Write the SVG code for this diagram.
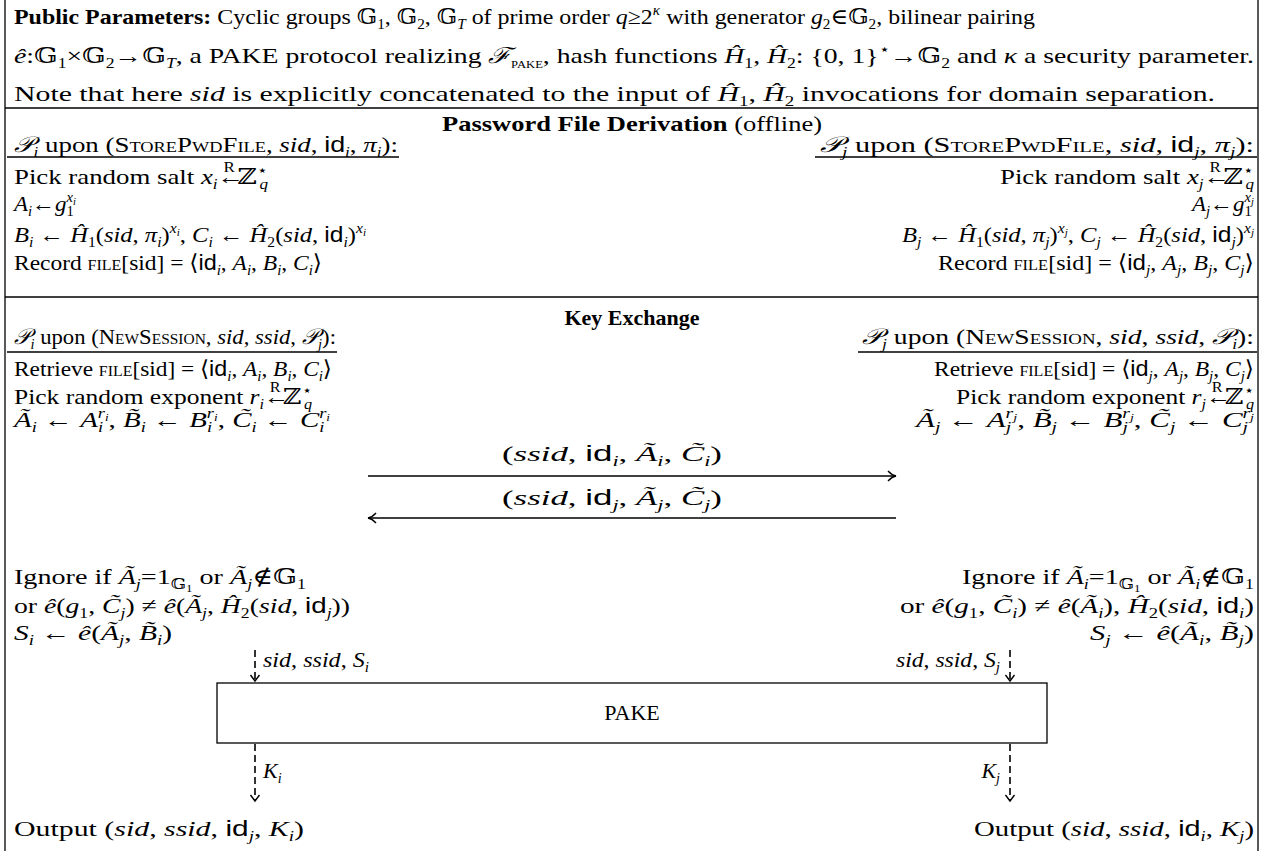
<svg xmlns="http://www.w3.org/2000/svg" width="1265" height="851" viewBox="0 0 1265 851">
<style>
text{font-family:"Liberation Serif","DejaVu Serif",serif;font-size:22px;fill:#000}
.i{font-style:italic}
.b{font-weight:bold}
.sf{font-family:"Liberation Sans","DejaVu Sans",sans-serif;font-style:normal}
.sc{font-variant:small-caps}
.sb{font-size:14px;baseline-shift:-5px}
.sp{font-size:14px;baseline-shift:9px}
.ss{font-size:10px;baseline-shift:-3px}
.r{font-size:14px;font-style:normal}
.rule{stroke:#000;stroke-width:1.3;fill:none}
.arr{stroke:#000;stroke-width:1.6;fill:none}
.dash{stroke:#000;stroke-width:1.6;fill:none;stroke-dasharray:7 4}
.box{fill:#fff;stroke:#000;stroke-width:1.3}
</style>
<defs>
<marker id="ah" markerWidth="12" markerHeight="12" refX="10" refY="6" orient="auto" markerUnits="userSpaceOnUse">
<path d="M2,1 Q6,5.4 10,6 Q6,6.6 2,11" fill="none" stroke="#000" stroke-width="1.4"/>
</marker>
<marker id="ch" markerWidth="12" markerHeight="12" refX="10" refY="6" orient="auto" markerUnits="userSpaceOnUse">
<path d="M4,1.5 L10,6 L4,10.5" fill="none" stroke="#000" stroke-width="1.4"/>
</marker>
</defs>
<rect width="1265" height="851" fill="#fff"/>
<g id="frame">
<line class="rule" x1="5" y1="0" x2="5" y2="851"/>
<line class="rule" x1="1258" y1="0" x2="1258" y2="851"/>
<line class="rule" x1="5" y1="108" x2="1258" y2="108"/>
<line class="rule" x1="5" y1="297" x2="1258" y2="297"/>
</g>
<g id="public-parameters">
<text x="14" y="24" textLength="1021" lengthAdjust="spacingAndGlyphs"><tspan class="b">Public Parameters:</tspan> Cyclic groups 𝔾<tspan class="sb">1</tspan>, 𝔾<tspan class="sb">2</tspan>, 𝔾<tspan class="sb i">T</tspan> of prime order <tspan class="i">q</tspan>≥2<tspan class="sp i">κ</tspan> with generator <tspan class="i">g</tspan><tspan class="sb">2</tspan>∈𝔾<tspan class="sb">2</tspan>, bilinear pairing</text>
<text x="14" y="63" textLength="1240" lengthAdjust="spacingAndGlyphs"><tspan class="i">ê</tspan>:𝔾<tspan class="sb">1</tspan>×𝔾<tspan class="sb">2</tspan>→𝔾<tspan class="sb i">T</tspan>, a PAKE protocol realizing <tspan class="i">ℱ</tspan><tspan class="sb sc">pake</tspan>, hash functions <tspan class="i">Ĥ</tspan><tspan class="sb">1</tspan>, <tspan class="i">Ĥ</tspan><tspan class="sb">2</tspan>: {0, 1}<tspan class="sp">⋆</tspan>→𝔾<tspan class="sb">2</tspan> and <tspan class="i">κ</tspan> a security parameter.</text>
<text x="14" y="101" textLength="1201" lengthAdjust="spacingAndGlyphs">Note that here <tspan class="i">sid</tspan> is explicitly concatenated to the input of <tspan class="i">Ĥ</tspan><tspan class="sb">1</tspan>, <tspan class="i">Ĥ</tspan><tspan class="sb">2</tspan> invocations for domain separation.</text>
</g>
<g id="password-file-derivation">
<text x="442" y="131" textLength="380" lengthAdjust="spacingAndGlyphs"><tspan class="b">Password File Derivation</tspan> (offline)</text>
<g id="pi-store">
<text x="14" y="152" textLength="384" lengthAdjust="spacingAndGlyphs"><tspan class="i">𝒫</tspan><tspan class="sb i">i</tspan> upon (<tspan class="sc">StorePwdFile</tspan>, <tspan class="i">sid</tspan>, <tspan class="sf">id</tspan><tspan class="sb i">i</tspan>, <tspan class="i">π</tspan><tspan class="sb i">i</tspan>):</text>
<line class="rule" x1="7" y1="157" x2="399" y2="157"/>
<text x="14" y="184" textLength="254" lengthAdjust="spacingAndGlyphs">Pick random salt <tspan class="i">x</tspan><tspan class="sb i">i</tspan>←<tspan class="r" dx="-17" dy="-12">R</tspan><tspan dx="2" dy="12">ℤ</tspan><tspan class="sp">⋆</tspan><tspan class="sb i" dx="-7">q</tspan></text>
<text x="14" y="211" textLength="62" lengthAdjust="spacingAndGlyphs"><tspan class="i">A</tspan><tspan class="sb i">i</tspan>←<tspan class="i">g</tspan><tspan class="sb">1</tspan><tspan class="sp i" dx="-7">x<tspan class="ss">i</tspan></tspan></text>
<text x="14" y="242" textLength="352" lengthAdjust="spacingAndGlyphs"><tspan class="i">B</tspan><tspan class="sb i">i</tspan> ← <tspan class="i">Ĥ</tspan><tspan class="sb">1</tspan>(<tspan class="i">sid</tspan>, <tspan class="i">π</tspan><tspan class="sb i">i</tspan>)<tspan class="sp i">x<tspan class="ss">i</tspan></tspan>,  <tspan class="i">C</tspan><tspan class="sb i">i</tspan> ← <tspan class="i">Ĥ</tspan><tspan class="sb">2</tspan>(<tspan class="i">sid</tspan>, <tspan class="sf">id</tspan><tspan class="sb i">i</tspan>)<tspan class="sp i">x<tspan class="ss">i</tspan></tspan></text>
<text x="14" y="270" textLength="308" lengthAdjust="spacingAndGlyphs">Record <tspan class="sc">file</tspan>[sid] = ⟨<tspan class="sf">id</tspan><tspan class="sb i">i</tspan>, <tspan class="i">A</tspan><tspan class="sb i">i</tspan>, <tspan class="i">B</tspan><tspan class="sb i">i</tspan>, <tspan class="i">C</tspan><tspan class="sb i">i</tspan>⟩</text>
</g>
<g id="pj-store">
<text x="820" y="152" textLength="434" lengthAdjust="spacingAndGlyphs"><tspan class="i">𝒫</tspan><tspan class="sb i">j</tspan> upon (<tspan class="sc">StorePwdFile</tspan>, <tspan class="i">sid</tspan>, <tspan class="sf">id</tspan><tspan class="sb i">j</tspan>, <tspan class="i">π</tspan><tspan class="sb i">j</tspan>):</text>
<line class="rule" x1="815" y1="157" x2="1257" y2="157"/>
<text x="1000" y="184" textLength="254" lengthAdjust="spacingAndGlyphs">Pick random salt <tspan class="i">x</tspan><tspan class="sb i">j</tspan>←<tspan class="r" dx="-17" dy="-12">R</tspan><tspan dx="2" dy="12">ℤ</tspan><tspan class="sp">⋆</tspan><tspan class="sb i" dx="-7">q</tspan></text>
<text x="1192" y="211" textLength="62" lengthAdjust="spacingAndGlyphs"><tspan class="i">A</tspan><tspan class="sb i">j</tspan>←<tspan class="i">g</tspan><tspan class="sb">1</tspan><tspan class="sp i" dx="-7">x<tspan class="ss">j</tspan></tspan></text>
<text x="902" y="242" textLength="352" lengthAdjust="spacingAndGlyphs"><tspan class="i">B</tspan><tspan class="sb i">j</tspan> ← <tspan class="i">Ĥ</tspan><tspan class="sb">1</tspan>(<tspan class="i">sid</tspan>, <tspan class="i">π</tspan><tspan class="sb i">j</tspan>)<tspan class="sp i">x<tspan class="ss">j</tspan></tspan>,  <tspan class="i">C</tspan><tspan class="sb i">j</tspan> ← <tspan class="i">Ĥ</tspan><tspan class="sb">2</tspan>(<tspan class="i">sid</tspan>, <tspan class="sf">id</tspan><tspan class="sb i">j</tspan>)<tspan class="sp i">x<tspan class="ss">j</tspan></tspan></text>
<text x="938" y="270" textLength="316" lengthAdjust="spacingAndGlyphs">Record <tspan class="sc">file</tspan>[sid] = ⟨<tspan class="sf">id</tspan><tspan class="sb i">j</tspan>, <tspan class="i">A</tspan><tspan class="sb i">j</tspan>, <tspan class="i">B</tspan><tspan class="sb i">j</tspan>, <tspan class="i">C</tspan><tspan class="sb i">j</tspan>⟩</text>
</g>
</g>
<g id="key-exchange">
<text x="632" y="325" text-anchor="middle" class="b">Key Exchange</text>
<g id="pi-session">
<text x="14" y="344" textLength="322" lengthAdjust="spacingAndGlyphs"><tspan class="i">𝒫</tspan><tspan class="sb i">i</tspan> upon (<tspan class="sc">NewSession</tspan>, <tspan class="i">sid</tspan>, <tspan class="i">ssid</tspan>, <tspan class="i">𝒫</tspan><tspan class="sb i">j</tspan>):</text>
<line class="rule" x1="7" y1="352" x2="337" y2="352"/>
<text x="14" y="376" textLength="318" lengthAdjust="spacingAndGlyphs">Retrieve <tspan class="sc">file</tspan>[sid] = ⟨<tspan class="sf">id</tspan><tspan class="sb i">i</tspan>, <tspan class="i">A</tspan><tspan class="sb i">i</tspan>, <tspan class="i">B</tspan><tspan class="sb i">i</tspan>, <tspan class="i">C</tspan><tspan class="sb i">i</tspan>⟩</text>
<text x="14" y="404" textLength="298" lengthAdjust="spacingAndGlyphs">Pick random exponent <tspan class="i">r</tspan><tspan class="sb i">i</tspan>←<tspan class="r" dx="-17" dy="-12">R</tspan><tspan dx="2" dy="12">ℤ</tspan><tspan class="sp">⋆</tspan><tspan class="sb i" dx="-7">q</tspan></text>
<text x="14" y="427" textLength="316" lengthAdjust="spacingAndGlyphs"><tspan class="i">Ã</tspan><tspan class="sb i">i</tspan> ← <tspan class="i">A</tspan><tspan class="sb i">i</tspan><tspan class="sp i" dx="-4">r<tspan class="ss">i</tspan></tspan>,     <tspan class="i">B̃</tspan><tspan class="sb i">i</tspan> ← <tspan class="i">B</tspan><tspan class="sb i">i</tspan><tspan class="sp i" dx="-4">r<tspan class="ss">i</tspan></tspan>,     <tspan class="i">C̃</tspan><tspan class="sb i">i</tspan> ← <tspan class="i">C</tspan><tspan class="sb i">i</tspan><tspan class="sp i" dx="-4">r<tspan class="ss">i</tspan></tspan></text>
<text x="14" y="584" textLength="292" lengthAdjust="spacingAndGlyphs">Ignore if <tspan class="i">Ã</tspan><tspan class="sb i">j</tspan>=1<tspan class="sb">𝔾<tspan class="ss">1</tspan></tspan>  or <tspan class="i">Ã</tspan><tspan class="sb i">j</tspan>∉𝔾<tspan class="sb">1</tspan></text>
<text x="14" y="613" textLength="336" lengthAdjust="spacingAndGlyphs">or <tspan class="i">ê</tspan>(<tspan class="i">g</tspan><tspan class="sb">1</tspan>, <tspan class="i">C̃</tspan><tspan class="sb i">j</tspan>) ≠ <tspan class="i">ê</tspan>(<tspan class="i">Ã</tspan><tspan class="sb i">j</tspan>, <tspan class="i">Ĥ</tspan><tspan class="sb">2</tspan>(<tspan class="i">sid</tspan>, <tspan class="sf">id</tspan><tspan class="sb i">j</tspan>))</text>
<text x="14" y="640" textLength="158" lengthAdjust="spacingAndGlyphs"><tspan class="i">S</tspan><tspan class="sb i">i</tspan>  ←  <tspan class="i">ê</tspan>(<tspan class="i">Ã</tspan><tspan class="sb i">j</tspan>,  <tspan class="i">B̃</tspan><tspan class="sb i">i</tspan>)</text>
<text x="14" y="836" textLength="290" lengthAdjust="spacingAndGlyphs">Output (<tspan class="i">sid</tspan>,  <tspan class="i">ssid</tspan>,  <tspan class="sf">id</tspan><tspan class="sb i">j</tspan>,  <tspan class="i">K</tspan><tspan class="sb i">i</tspan>)</text>
</g>
<g id="pj-session">
<text x="862" y="344" textLength="392" lengthAdjust="spacingAndGlyphs"><tspan class="i">𝒫</tspan><tspan class="sb i">j</tspan> upon (<tspan class="sc">NewSession</tspan>, <tspan class="i">sid</tspan>, <tspan class="i">ssid</tspan>, <tspan class="i">𝒫</tspan><tspan class="sb i">i</tspan>):</text>
<line class="rule" x1="858" y1="352" x2="1257" y2="352"/>
<text x="934" y="376" textLength="320" lengthAdjust="spacingAndGlyphs">Retrieve <tspan class="sc">file</tspan>[sid] = ⟨<tspan class="sf">id</tspan><tspan class="sb i">j</tspan>, <tspan class="i">A</tspan><tspan class="sb i">j</tspan>, <tspan class="i">B</tspan><tspan class="sb i">j</tspan>, <tspan class="i">C</tspan><tspan class="sb i">j</tspan>⟩</text>
<text x="956" y="404" textLength="298" lengthAdjust="spacingAndGlyphs">Pick random exponent <tspan class="i">r</tspan><tspan class="sb i">j</tspan>←<tspan class="r" dx="-17" dy="-12">R</tspan><tspan dx="2" dy="12">ℤ</tspan><tspan class="sp">⋆</tspan><tspan class="sb i" dx="-7">q</tspan></text>
<text x="916" y="427" textLength="338" lengthAdjust="spacingAndGlyphs"><tspan class="i">Ã</tspan><tspan class="sb i">j</tspan> ← <tspan class="i">A</tspan><tspan class="sb i">j</tspan><tspan class="sp i" dx="-4">r<tspan class="ss">j</tspan></tspan>,     <tspan class="i">B̃</tspan><tspan class="sb i">j</tspan> ← <tspan class="i">B</tspan><tspan class="sb i">j</tspan><tspan class="sp i" dx="-4">r<tspan class="ss">j</tspan></tspan>,     <tspan class="i">C̃</tspan><tspan class="sb i">j</tspan> ← <tspan class="i">C</tspan><tspan class="sb i">j</tspan><tspan class="sp i" dx="-4">r<tspan class="ss">j</tspan></tspan></text>
<text x="962" y="584" textLength="292" lengthAdjust="spacingAndGlyphs">Ignore if <tspan class="i">Ã</tspan><tspan class="sb i">i</tspan>=1<tspan class="sb">𝔾<tspan class="ss">1</tspan></tspan>  or <tspan class="i">Ã</tspan><tspan class="sb i">i</tspan>∉𝔾<tspan class="sb">1</tspan></text>
<text x="900" y="613" textLength="354" lengthAdjust="spacingAndGlyphs">or <tspan class="i">ê</tspan>(<tspan class="i">g</tspan><tspan class="sb">1</tspan>, <tspan class="i">C̃</tspan><tspan class="sb i">i</tspan>) ≠ <tspan class="i">ê</tspan>(<tspan class="i">Ã</tspan><tspan class="sb i">i</tspan>), <tspan class="i">Ĥ</tspan><tspan class="sb">2</tspan>(<tspan class="i">sid</tspan>, <tspan class="sf">id</tspan><tspan class="sb i">i</tspan>)</text>
<text x="1090" y="640" textLength="164" lengthAdjust="spacingAndGlyphs"><tspan class="i">S</tspan><tspan class="sb i">j</tspan>  ←  <tspan class="i">ê</tspan>(<tspan class="i">Ã</tspan><tspan class="sb i">i</tspan>,  <tspan class="i">B̃</tspan><tspan class="sb i">j</tspan>)</text>
<text x="974" y="836" textLength="280" lengthAdjust="spacingAndGlyphs">Output (<tspan class="i">sid</tspan>,  <tspan class="i">ssid</tspan>,  <tspan class="sf">id</tspan><tspan class="sb i">i</tspan>,  <tspan class="i">K</tspan><tspan class="sb i">j</tspan>)</text>
</g>
</g>
<g id="pake">
<rect class="box" x="217" y="683" width="830" height="60"/>
<text x="632" y="720" text-anchor="middle">PAKE</text>
</g>
<g id="connectors">
<line class="arr" x1="368" y1="476" x2="896" y2="476" marker-end="url(#ah)"/>
<text x="502" y="461" textLength="220" lengthAdjust="spacingAndGlyphs">(<tspan class="i">ssid</tspan>,  <tspan class="sf">id</tspan><tspan class="sb i">i</tspan>,  <tspan class="i">Ã</tspan><tspan class="sb i">i</tspan>,  <tspan class="i">C̃</tspan><tspan class="sb i">i</tspan>)</text>
<line class="arr" x1="896" y1="518" x2="368" y2="518" marker-end="url(#ah)"/>
<text x="502" y="505" textLength="220" lengthAdjust="spacingAndGlyphs">(<tspan class="i">ssid</tspan>,  <tspan class="sf">id</tspan><tspan class="sb i">j</tspan>,  <tspan class="i">Ã</tspan><tspan class="sb i">j</tspan>,  <tspan class="i">C̃</tspan><tspan class="sb i">j</tspan>)</text>
<line class="dash" x1="255" y1="650" x2="255" y2="681" marker-end="url(#ch)"/>
<text x="263" y="667" textLength="106" lengthAdjust="spacingAndGlyphs"><tspan class="i">sid</tspan>, <tspan class="i">ssid</tspan>, <tspan class="i">S</tspan><tspan class="sb i">i</tspan></text>
<line class="dash" x1="1010" y1="650" x2="1010" y2="681" marker-end="url(#ch)"/>
<text x="896" y="667" textLength="104" lengthAdjust="spacingAndGlyphs"><tspan class="i">sid</tspan>, <tspan class="i">ssid</tspan>, <tspan class="i">S</tspan><tspan class="sb i">j</tspan></text>
<line class="dash" x1="255" y1="744" x2="255" y2="801" marker-end="url(#ch)"/>
<text x="263" y="778"><tspan class="i">K</tspan><tspan class="sb i">i</tspan></text>
<line class="dash" x1="1010" y1="744" x2="1010" y2="801" marker-end="url(#ch)"/>
<text x="1000" y="778" text-anchor="end"><tspan class="i">K</tspan><tspan class="sb i">j</tspan></text>
</g>
</svg>
